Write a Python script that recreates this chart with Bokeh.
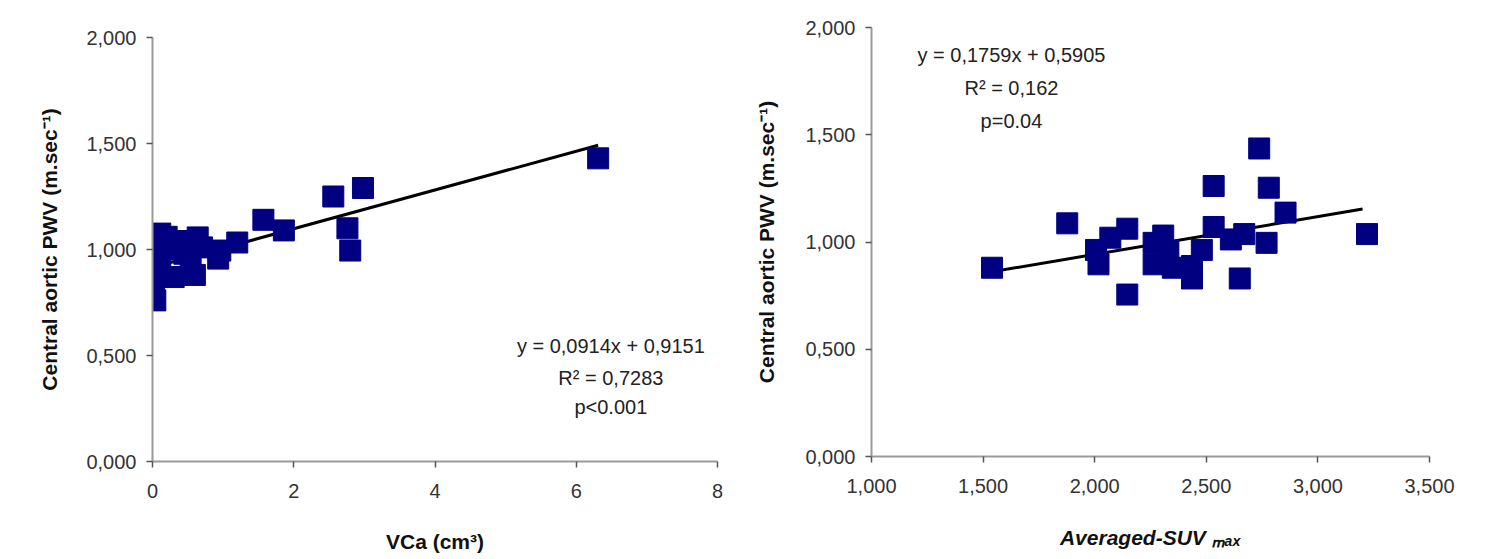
from bokeh.plotting import figure
from bokeh.layouts import row, column
from bokeh.models import Range1d, FixedTicker, CustomJSTickFormatter, Label
from bokeh.embed import file_html
from bokeh.resources import INLINE

# ---- data ----
vca = [0.04, 0.02, 0.05, 0.11, 0.11, 0.15, 0.20, 0.30, 0.35, 0.45, 0.54, 0.60,
       0.64, 0.70, 0.93, 0.96, 1.20, 1.57, 1.86, 2.56, 2.76, 2.80, 2.98, 6.31]
pwv_vca = [0.76, 0.84, 0.96, 1.075, 0.90, 1.00, 1.06, 0.87, 1.04, 0.98, 0.915, 0.88,
           1.057, 1.01, 0.957, 0.995, 1.033, 1.14, 1.09, 1.25, 1.10, 0.995, 1.29, 1.43]

suv = [1.54, 1.877, 2.146, 2.146, 2.017, 2.006, 2.07, 2.264, 2.307, 2.264, 2.35,
       2.436, 2.436, 2.48, 2.533, 2.533, 2.61, 2.65, 2.67, 2.737, 2.78, 2.77,
       2.855, 3.22, 2.33]
pwv_suv = [0.88, 1.087, 1.062, 0.755, 0.896, 0.963, 1.02, 0.996, 1.03, 0.896, 0.88,
           0.888, 0.83, 0.963, 1.261, 1.07, 1.012, 0.83, 1.037, 1.436, 1.253, 0.996,
           1.137, 1.037, 0.96]

left_slope, left_intercept = 0.0914, 0.9151
right_slope, right_intercept = 0.1759, 0.5905

left_eq = ["y = 0,0914x + 0,9151", "R\u00b2 = 0,7283", "p<0.001"]
right_eq = ["y = 0,1759x + 0,5905", "R\u00b2 = 0,162", "p=0.04"]

y_ticks = [0, 0.5, 1.0, 1.5, 2.0]
left_x_ticks = [0, 2, 4, 6, 8]
right_x_ticks = [1.0, 1.5, 2.0, 2.5, 3.0, 3.5]

y_title = "Central aortic PWV (m.sec\u207b\u00b9)"
left_x_title = "VCa (cm\u00b3)"
right_x_title = "Averaged-SUV \u2098\u2090\u2093"

FONT = "Liberation Sans"
NAVY = "#000080"
comma3 = CustomJSTickFormatter(code="return tick.toFixed(3).replace('.', ',');")


def style(p):
    p.outline_line_color = None
    p.xgrid.visible = False
    p.ygrid.visible = False
    for ax in (p.xaxis[0], p.yaxis[0]):
        ax.axis_line_color = "#9a9a9a"
        ax.axis_line_width = 2
        ax.major_tick_line_color = "#555555"
        ax.major_tick_line_width = 1.5
        ax.major_tick_in = 0
        ax.major_tick_out = 6
        ax.minor_tick_line_color = None
        ax.major_label_text_font = FONT
        ax.major_label_text_font_size = "20px"
        ax.major_label_text_color = "#333333"
        ax.axis_label_text_font = FONT
        ax.axis_label_text_font_size = "21px"
        ax.axis_label_text_font_style = "bold"
        ax.axis_label_text_color = "#111111"
        ax.axis_label_text_line_height = 0.9
    p.yaxis[0].ticker = FixedTicker(ticks=y_ticks)
    p.yaxis[0].formatter = comma3
    p.yaxis[0].major_label_standoff = 10


# ---- left chart ----
p1 = figure(width=750, height=559, output_backend="svg", toolbar_location=None,
            x_range=Range1d(0, 8), y_range=Range1d(0, 2),
            min_border_left=152, min_border_right=33, min_border_top=37,
            min_border_bottom=98)
style(p1)
p1.xaxis[0].ticker = FixedTicker(ticks=left_x_ticks)
p1.xaxis[0].major_label_standoff = 16
p1.xaxis.axis_label = left_x_title
p1.xaxis.axis_label_standoff = 29
p1.xaxis.axis_label_text_baseline = "top"
p1.yaxis.axis_label = y_title
p1.yaxis.axis_label_standoff = 22

lx = [min(vca), max(vca)]
p1.line(lx, [left_slope * v + left_intercept for v in lx], line_color="black", line_width=3)
p1.scatter(vca, pwv_vca, marker="square", size=21, fill_color=NAVY, line_color=NAVY)

for txt, yy in zip(left_eq, [0.547, 0.396, 0.255]):
    p1.add_layout(Label(x=6.49, y=yy, text=txt, text_align="center", text_baseline="middle",
                        text_font=FONT, text_font_size="20px", text_color="#222222"))

# ---- right chart ----
p2 = figure(width=751, height=559, output_backend="svg", toolbar_location=None,
            x_range=Range1d(1.0, 3.5), y_range=Range1d(0, 2),
            min_border_left=121, min_border_right=72, min_border_top=27,
            min_border_bottom=103)
style(p2)
p2.xaxis[0].ticker = FixedTicker(ticks=right_x_ticks)
p2.xaxis[0].formatter = comma3
p2.xaxis[0].major_label_standoff = 16
p2.xaxis.axis_label = right_x_title
p2.xaxis.axis_label_standoff = 30
p2.xaxis.axis_label_text_font_style = "bold italic"
p2.xaxis.axis_label_text_baseline = "top"
p2.yaxis.axis_label = y_title
p2.yaxis.axis_label_standoff = 24

rx = [min(suv), 3.2]
p2.line(rx, [right_slope * v + right_intercept for v in rx], line_color="black", line_width=3)
p2.scatter(suv, pwv_suv, marker="square", size=21, fill_color=NAVY, line_color=NAVY)

for txt, yy in zip(right_eq, [1.87, 1.72, 1.562]):
    p2.add_layout(Label(x=1.627, y=yy, text=txt, text_align="center", text_baseline="middle",
                        text_font=FONT, text_font_size="20px", text_color="#222222"))

layout = row(column(p1), column(p2))
open("out.html", "w").write(file_html(layout, INLINE))
